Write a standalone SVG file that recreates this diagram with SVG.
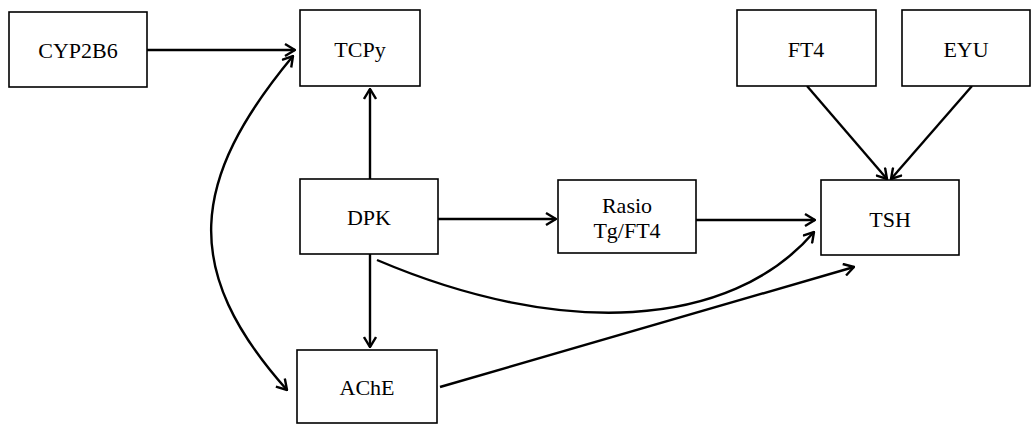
<svg xmlns="http://www.w3.org/2000/svg" width="1031" height="424" viewBox="0 0 1031 424">
  <style>
    .box { fill: #ffffff; stroke: #000000; stroke-width: 1.6; }
    .lbl { font-family: "Liberation Serif", "Times New Roman", "DejaVu Serif", serif; font-size: 22px; fill: #000000; text-anchor: middle; }
    .edge { fill: none; stroke: #000000; stroke-width: 2.4; }
  </style>
  <defs>
    <marker id="arr" viewBox="0 0 12 14" refX="11" refY="7" markerWidth="12" markerHeight="14" markerUnits="userSpaceOnUse" orient="auto-start-reverse">
      <path d="M1,1 L11,7 L1,13" fill="none" stroke="#000000" stroke-width="2.4" stroke-linejoin="miter"/>
    </marker>
  </defs>
  <rect width="1031" height="424" fill="#ffffff"/>

  <g id="connectors">
    <path class="edge" d="M147,50 L295,50" marker-end="url(#arr)"/>
    <path class="edge" d="M370,179 L370,89" marker-end="url(#arr)"/>
    <path class="edge" d="M438,219 L556,219" marker-end="url(#arr)"/>
    <path class="edge" d="M696,220 L815,220" marker-end="url(#arr)"/>
    <path class="edge" d="M370,254 L370,347" marker-end="url(#arr)"/>
    <path class="edge" d="M807,86 L887,179" marker-end="url(#arr)"/>
    <path class="edge" d="M972,86 L891,179" marker-end="url(#arr)"/>
    <path class="edge" d="M377,260 C560,338 730,330 814,232" marker-end="url(#arr)"/>
    <path class="edge" d="M440,387 L854,267" marker-end="url(#arr)"/>
    <path class="edge" d="M293,56 C190,180 180,270 287,390" marker-start="url(#arr)" marker-end="url(#arr)"/>
  </g>

  <g id="node-cyp2b6">
    <rect class="box" x="9" y="12" width="138" height="75"/>
    <text class="lbl" x="78" y="58" font-family="Liberation Serif, serif">CYP2B6</text>
  </g>
  <g id="node-tcpy">
    <rect class="box" x="300" y="10" width="120" height="76"/>
    <text class="lbl" x="360" y="57" font-family="Liberation Serif, serif">TCPy</text>
  </g>
  <g id="node-dpk">
    <rect class="box" x="300" y="179" width="138" height="75"/>
    <text class="lbl" x="369" y="225" font-family="Liberation Serif, serif">DPK</text>
  </g>
  <g id="node-rasio">
    <rect class="box" x="558" y="180" width="138" height="73"/>
    <text class="lbl" x="627" y="213" font-family="Liberation Serif, serif">Rasio</text>
    <text class="lbl" x="627" y="238" font-family="Liberation Serif, serif">Tg/FT4</text>
  </g>
  <g id="node-ache">
    <rect class="box" x="297" y="350" width="140" height="73"/>
    <text class="lbl" x="367" y="395" font-family="Liberation Serif, serif">AChE</text>
  </g>
  <g id="node-ft4">
    <rect class="box" x="737" y="10" width="139" height="76"/>
    <text class="lbl" x="806" y="57" font-family="Liberation Serif, serif">FT4</text>
  </g>
  <g id="node-eyu">
    <rect class="box" x="902" y="10" width="128" height="76"/>
    <text class="lbl" x="966" y="57" font-family="Liberation Serif, serif">EYU</text>
  </g>
  <g id="node-tsh">
    <rect class="box" x="821" y="180" width="138" height="75"/>
    <text class="lbl" x="890" y="227" font-family="Liberation Serif, serif">TSH</text>
  </g>
</svg>
